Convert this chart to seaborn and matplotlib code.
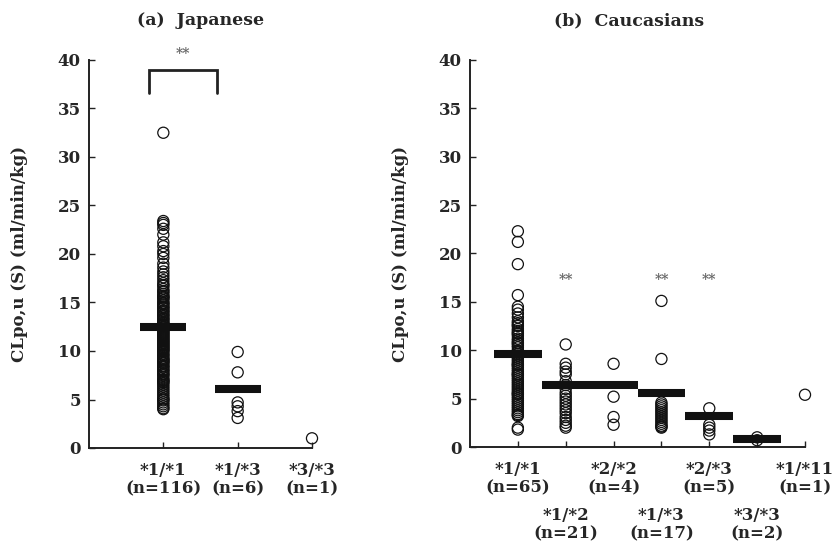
import numpy as np
import pandas as pd
import matplotlib
matplotlib.use("Agg")
import matplotlib.pyplot as plt
import seaborn as sns

# ---------------- data ----------------
jp_groups = ["*1/*1", "*1/*3", "*3/*3"]
jp_n = [116, 6, 1]
jp_11 = [32.5,
         23.4, 23.2, 23.0, 22.6, 22.0, 21.2, 20.8, 20.3, 20.0, 19.6,
         19.0, 18.6, 18.2, 17.9, 17.6, 17.3, 17.0,
         16.7, 16.4, 16.1, 15.9, 15.7, 15.5, 15.2, 15.0,
         14.8, 14.6, 14.4, 14.2, 14.0, 13.8, 13.6, 13.4, 13.2, 13.0,
         12.9, 12.7, 12.5, 12.3, 12.1, 11.9, 11.7, 11.5, 11.3, 11.1, 11.0,
         10.9, 10.7, 10.5, 10.3, 10.1, 9.9, 9.7, 9.5, 9.3, 9.1, 9.0,
         8.9, 8.7, 8.5, 8.3, 8.1, 7.9, 7.7, 7.5, 7.3, 7.1, 7.0,
         6.9, 6.7, 6.5, 6.3, 6.1, 5.9, 5.7, 5.5, 5.3, 5.1, 5.0,
         4.9, 4.7, 4.5, 4.3, 4.1, 4.0,
         16.8, 16.2, 15.6, 15.4, 14.9, 14.5, 14.1, 13.7, 13.3, 12.8,
         12.6, 12.4, 12.2, 12.0, 11.8, 11.6, 11.4, 11.2, 10.8, 10.6,
         10.4, 10.2, 10.0, 9.6, 9.2, 8.8, 8.4, 8.0, 7.6, 6.8]
jp_13 = [9.9, 7.8, 4.7, 4.3, 3.8, 3.1]
jp_33 = [1.0]
jp_means = [12.5, 6.1]

ca_groups = ["*1/*1", "*1/*2", "*2/*2", "*1/*3", "*2/*3", "*3/*3", "*1/*11"]
ca_n = [65, 21, 4, 17, 5, 2, 1]
ca_11 = [22.3, 21.2, 18.9, 15.7, 14.5, 14.2, 13.8, 13.4, 12.8, 12.5, 12.2, 12.0,
         11.7, 11.5, 11.2, 11.0, 10.7, 10.5, 10.3, 10.0, 9.8, 9.6, 9.4, 9.2, 9.0,
         8.8, 8.6, 8.4, 8.2, 8.0, 7.8, 7.6, 7.4, 7.2, 7.0, 6.8, 6.6, 6.4, 6.2, 6.0,
         5.8, 5.6, 5.4, 5.2, 5.0, 4.8, 4.6, 4.4, 4.2, 4.0, 3.8, 3.6, 3.4, 3.2,
         2.0, 1.8, 13.0, 12.6, 11.8, 10.8, 9.9, 8.5, 7.5, 5.5, 3.3]
ca_12 = [10.6, 8.6, 8.2, 7.8, 7.5, 6.8, 6.4, 6.0, 5.6, 5.3, 5.0, 4.7, 4.4, 4.1,
         3.8, 3.5, 3.1, 2.8, 2.5, 2.2, 2.0]
ca_22 = [8.6, 5.2, 3.1, 2.3]
ca_13 = [15.1, 9.1, 4.6, 4.4, 4.2, 4.0, 3.8, 3.6, 3.4, 3.2, 3.0, 2.8, 2.6, 2.4,
         2.2, 2.1, 2.0]
ca_23 = [4.0, 2.3, 2.0, 1.7, 1.3]
ca_33 = [1.0, 0.7]
ca_111 = [5.4]
ca_means = [9.6, 6.4, 6.4, 5.6, 3.2, 0.8]

jp_sig_idx = [0, 1]           # bracket between groups
ca_sig_idx = [1, 3, 4]        # groups marked with **

# ---------------- style ----------------
sns.set_style("ticks")
plt.rcParams["font.family"] = ["DejaVu Serif"]
plt.rcParams["font.weight"] = "bold"
plt.rcParams["axes.labelweight"] = "bold"
plt.rcParams["axes.titleweight"] = "bold"

FS = 12
fig = plt.figure(figsize=(8.37, 5.46), dpi=100)
ax1 = fig.add_axes([89 / 837, 1 - 448 / 546, (312 - 89) / 837, (448 - 60) / 546])
ax2 = fig.add_axes([470 / 837, 1 - 447 / 546, (805 - 470) / 837, (447 - 60) / 546])

jp_df = pd.DataFrame({
    "g": sum([[g] * len(v) for g, v in zip(jp_groups, [jp_11, jp_13, jp_33])], []),
    "v": jp_11 + jp_13 + jp_33})
ca_vals = [ca_11, ca_12, ca_22, ca_13, ca_23, ca_33, ca_111]
ca_df = pd.DataFrame({
    "g": sum([[g] * len(v) for g, v in zip(ca_groups, ca_vals)], []),
    "v": sum(ca_vals, [])})


def panel(ax, df, groups, ns, means, half, title, xlim_hi):
    sns.stripplot(data=df, x="g", y="v", order=groups, jitter=False, ax=ax,
                  marker="o", size=8, color="black", linewidth=0.9,
                  edgecolor="black", zorder=3, clip_on=False)
    for c in ax.collections:
        c.set_facecolor("none")
        c.set_edgecolor("#111111")
        c.set_clip_on(False)
    xs = np.arange(len(means))
    ax.hlines(means, xs - half, xs + half, colors="#111111", lw=5.8, zorder=4,
              capstyle="butt")
    ax.set_xlim(-1, xlim_hi)
    ax.set_ylim(0, 40)
    ax.set_yticks(range(0, 41, 5))
    ax.set_xticks(range(len(groups)))
    ax.set_xlabel("")
    ax.set_ylabel("CLpo,u (S) (ml/min/kg)", fontsize=FS, fontweight="bold",
                  labelpad=21)
    ax.set_title(title, fontsize=FS + 0.5, fontweight="bold", pad=25)
    for sp in ["top", "right"]:
        ax.spines[sp].set_visible(False)
    for sp in ["left", "bottom"]:
        ax.spines[sp].set_linewidth(1.4)
        ax.spines[sp].set_color("#222222")
    ax.tick_params(axis="both", direction="in", length=4, width=1.0,
                   labelsize=FS, color="#222222")
    ax.tick_params(axis="x", pad=10)
    ax.tick_params(axis="y", pad=6)


panel(ax1, jp_df, jp_groups, jp_n, jp_means, 0.31, "(a)  Japanese", 2)
panel(ax2, ca_df, ca_groups, ca_n, ca_means, 0.5, "(b)  Caucasians", 6)
ax2.title.set_x(0.475)

ax1.set_xticklabels([f"{g}\n(n={n})" for g, n in zip(jp_groups, jp_n)],
                    fontsize=FS, fontweight="bold", linespacing=1.1)
ax2.set_xticklabels([f"{g}\n(n={n})" for g, n in zip(ca_groups, ca_n)],
                    fontsize=FS, fontweight="bold", linespacing=1.1)
for i, t in enumerate(ax2.xaxis.get_major_ticks()):
    if i % 2 == 1:
        t.set_pad(10 + 46 * 0.72)

# significance bracket (Japanese)
x0, x1 = jp_sig_idx[0] - 0.19, jp_sig_idx[1] - 0.28
ax1.plot([x0, x0, x1, x1], [36.6, 39.0, 39.0, 36.6], color="#222222", lw=2,
         clip_on=False, solid_joinstyle="miter")
ax1.text(0.27, 40.6, "**", ha="center", va="center", fontsize=10,
         color="#666666", clip_on=False)
for i in ca_sig_idx:
    ax2.text(i, 17.3, "**", ha="center", va="center", fontsize=10,
             color="#666666")

fig.savefig("out.png", dpi=100)
